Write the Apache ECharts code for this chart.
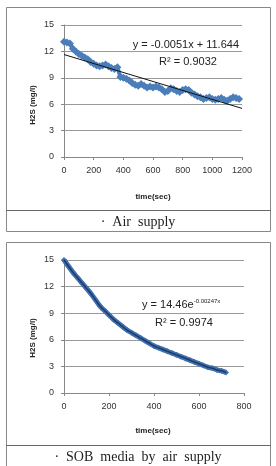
<!DOCTYPE html>
<html>
<head>
<meta charset="utf-8">
<script src="https://cdn.jsdelivr.net/npm/echarts@6/dist/echarts.min.js"></script>
<style>
  html, body { margin: 0; padding: 0; background: #fff; }
  #main { width: 276px; height: 466px; }
</style>
</head>
<body>
<div id="main"></div>
<script>
// air supply run, sampled every 20 s
var airTime = [0, 20, 40, 60, 80, 100, 120, 140, 160, 180, 200, 220, 240, 260, 280, 300,
  320, 340, 360, 380, 400, 420, 440, 460, 480, 500, 520, 540, 560, 580, 600, 620, 640,
  660, 680, 700, 720, 740, 760, 780, 800, 820, 840, 860, 880, 900, 920, 940, 960, 980,
  1000, 1020, 1040, 1060, 1080, 1100, 1120, 1140, 1160, 1180];
var airH2S = [13.1, 13.0, 12.9, 12.3, 12.0, 11.7, 11.5, 11.3, 11.1, 10.8, 10.6, 10.4, 10.3,
  10.4, 10.5, 10.3, 10.1, 10.0, 10.2, 9.1, 9.0, 8.9, 8.7, 8.4, 8.2, 8.1, 8.3, 8.1, 7.9, 8.0,
  7.9, 8.0, 7.9, 7.7, 7.4, 7.5, 7.8, 7.7, 7.5, 7.4, 7.6, 7.7, 7.6, 7.3, 7.1, 6.9, 6.8, 6.6,
  6.7, 6.8, 6.6, 6.5, 6.6, 6.7, 6.5, 6.4, 6.6, 6.8, 6.7, 6.6];
var airTrend = [[0, 11.644], [1200, 5.524]];

// SOB media by air supply, sampled every 20 s
var sobTime = [0, 20, 40, 60, 80, 100, 120, 140, 160, 180, 200, 220, 240, 260, 280, 300,
  320, 340, 360, 380, 400, 420, 440, 460, 480, 500, 520, 540, 560, 580, 600, 620, 640,
  660, 680, 700, 720];
var sobH2S = [15.0, 14.3, 13.6, 13.0, 12.4, 11.8, 11.2, 10.5, 9.8, 9.3, 8.8, 8.3, 7.9, 7.5,
  7.1, 6.8, 6.5, 6.2, 5.9, 5.6, 5.3, 5.1, 4.9, 4.7, 4.5, 4.3, 4.1, 3.9, 3.7, 3.5, 3.3, 3.1,
  2.9, 2.8, 2.6, 2.5, 2.3];

var yTicks = [0, 3, 6, 9, 12, 15];
var captions = ['\u00b7  Air  supply', '\u00b7  SOB  media  by  air  supply'];

function pairs(xs, ys) {
  return xs.map(function (x, i) { return [x, ys[i]]; });
}

var blue = '#4a7ebb';
var tickFont = { fontSize: 9, color: '#333', fontFamily: '"Liberation Sans Narrow", "Liberation Sans", Arial' };

function xAx(idx, max) {
  return {
    gridIndex: idx, type: 'value', min: 0, max: max, interval: 200,
    axisLine: { lineStyle: { color: '#888' } },
    axisTick: { show: true, length: 3, lineStyle: { color: '#888' } },
    axisLabel: Object.assign({ margin: 9, formatter: function (v) { return String(v); } }, tickFont),
    splitLine: { show: false }
  };
}
function yAx(idx) {
  return {
    gridIndex: idx, type: 'value', min: yTicks[0], max: yTicks[yTicks.length - 1], interval: 3,
    axisLine: { show: true, lineStyle: { color: '#888' } },
    axisTick: { show: true, length: 3, lineStyle: { color: '#888' } },
    axisLabel: Object.assign({ margin: 10 }, tickFont),
    splitLine: { lineStyle: { color: '#999', width: 1 } }
  };
}

var chart = echarts.init(document.getElementById('main'));
var sansFam = '"Liberation Sans", Arial, sans-serif';

chart.setOption({
  animation: false,
  backgroundColor: '#fff',
  grid: [
    { left: 64, top: 25, width: 178, height: 132 },
    { left: 64, top: 260, width: 180, height: 133 }
  ],
  xAxis: [xAx(0, 1200), xAx(1, 800)],
  yAxis: [yAx(0), yAx(1)],
  series: [
    {
      type: 'line', xAxisIndex: 0, yAxisIndex: 0, data: pairs(airTime, airH2S),
      symbol: 'diamond', symbolSize: 8, showSymbol: true,
      itemStyle: { color: blue }, lineStyle: { color: blue, width: 4 }, z: 2
    },
    {
      type: 'line', xAxisIndex: 0, yAxisIndex: 0, data: airTrend, symbol: 'none',
      lineStyle: { color: '#111', width: 1 }, z: 3
    },
    {
      type: 'line', xAxisIndex: 1, yAxisIndex: 1, data: pairs(sobTime, sobH2S),
      symbol: 'diamond', symbolSize: 6, showSymbol: true, smooth: true,
      itemStyle: { color: '#3f6fae' }, lineStyle: { color: '#3f6fae', width: 5 }, z: 2
    },
    {
      type: 'line', xAxisIndex: 1, yAxisIndex: 1, data: pairs(sobTime, sobH2S), symbol: 'none',
      smooth: true, lineStyle: { color: '#1e3a66', width: 1.5 }, z: 3
    }
  ],
  graphic: [
    // frames
    { type: 'rect', shape: { x: 6.5, y: 7.5, width: 264, height: 224 }, style: { fill: 'none', stroke: '#888', lineWidth: 1 }, silent: true },
    { type: 'line', shape: { x1: 6.5, y1: 210.5, x2: 270.5, y2: 210.5 }, style: { stroke: '#666', lineWidth: 1 }, silent: true },
    { type: 'rect', shape: { x: 6.5, y: 242.5, width: 264, height: 240 }, style: { fill: 'none', stroke: '#888', lineWidth: 1 }, silent: true },
    { type: 'line', shape: { x1: 6.5, y1: 445.5, x2: 270.5, y2: 445.5 }, style: { stroke: '#666', lineWidth: 1 }, silent: true },
    // axis titles
    { type: 'text', x: 33, y: 105, rotation: Math.PI / 2, style: { text: 'H2S (mg/l)', font: 'bold 8px ' + sansFam, fill: '#222', align: 'center', verticalAlign: 'middle' } },
    { type: 'text', x: 153, y: 197, style: { text: 'time(sec)', font: 'bold 8px ' + sansFam, fill: '#222', align: 'center', verticalAlign: 'middle' } },
    { type: 'text', x: 33, y: 338, rotation: Math.PI / 2, style: { text: 'H2S (mg/l)', font: 'bold 8px ' + sansFam, fill: '#222', align: 'center', verticalAlign: 'middle' } },
    { type: 'text', x: 153, y: 431, style: { text: 'time(sec)', font: 'bold 8px ' + sansFam, fill: '#222', align: 'center', verticalAlign: 'middle' } },
    // equations
    { type: 'text', x: 239, y: 45, style: { text: 'y = -0.0051x + 11.644', font: '11px ' + sansFam, fill: '#222', align: 'right', verticalAlign: 'middle' } },
    { type: 'text', x: 188, y: 62, style: { text: 'R\u00b2 = 0.9032', font: '11px ' + sansFam, fill: '#222', align: 'center', verticalAlign: 'middle' } },
    {
      type: 'text', x: 142, y: 305,
      style: {
        text: '{a|y = 14.46e}{b|-0.00247x}',
        fill: '#222', verticalAlign: 'middle',
        rich: {
          a: { fontSize: 11, fontFamily: sansFam, fill: '#222' },
          b: { fontSize: 6, fontFamily: sansFam, fill: '#222', verticalAlign: 'top', padding: [0, 0, 7, 0] }
        }
      }
    },
    { type: 'text', x: 184, y: 323, style: { text: 'R\u00b2 = 0.9974', font: '11px ' + sansFam, fill: '#222', align: 'center', verticalAlign: 'middle' } },
    // captions
    { type: 'text', x: 138, y: 222, style: { text: captions[0], font: '14px "Liberation Serif", "DejaVu Serif", serif', fill: '#222', align: 'center', verticalAlign: 'middle' } },
    { type: 'text', x: 138, y: 457, style: { text: captions[1], font: '14px "Liberation Serif", "DejaVu Serif", serif', fill: '#222', align: 'center', verticalAlign: 'middle' } }
  ]
});
</script>
</body>
</html>
